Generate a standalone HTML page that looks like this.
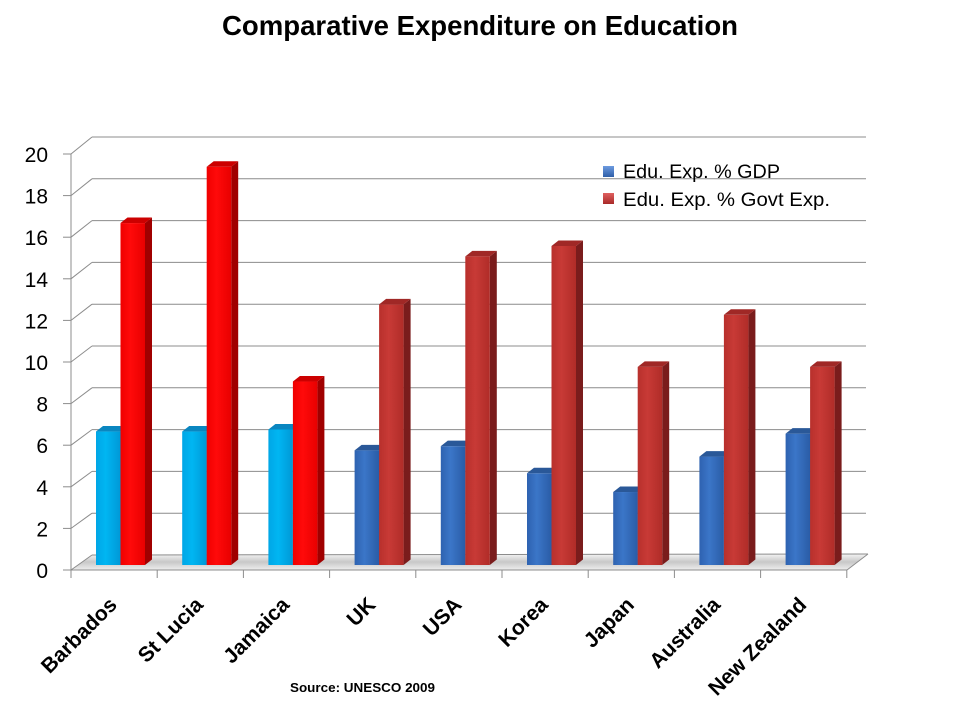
<!DOCTYPE html>
<html><head><meta charset="utf-8"><style>
html,body{margin:0;padding:0;background:#fff;}
svg{display:block;font-family:"Liberation Sans",sans-serif;}
</style></head><body>
<svg width="960" height="720" viewBox="0 0 960 720" xmlns="http://www.w3.org/2000/svg">
<defs>
<linearGradient id="cy" x1="0" x2="1" y1="0" y2="0"><stop offset="0" stop-color="#00a6e6"/><stop offset="0.4" stop-color="#00b6f2"/><stop offset="1" stop-color="#0098d6"/></linearGradient>
<linearGradient id="rd" x1="0" x2="1" y1="0" y2="0"><stop offset="0" stop-color="#f00000"/><stop offset="0.4" stop-color="#ff0a0a"/><stop offset="1" stop-color="#e80000"/></linearGradient>
<linearGradient id="bl" x1="0" x2="1" y1="0" y2="0"><stop offset="0" stop-color="#2e62b0"/><stop offset="0.4" stop-color="#3b76c8"/><stop offset="1" stop-color="#2a5ca6"/></linearGradient>
<linearGradient id="dr" x1="0" x2="1" y1="0" y2="0"><stop offset="0" stop-color="#b8302c"/><stop offset="0.4" stop-color="#c83a36"/><stop offset="1" stop-color="#b02c28"/></linearGradient>
<linearGradient id="fl" x1="0" x2="0" y1="0" y2="1"><stop offset="0" stop-color="#f4f4f4"/><stop offset="0.5" stop-color="#c8c8c8"/><stop offset="1" stop-color="#eeeeee"/></linearGradient>
<linearGradient id="lgb" x1="0" x2="0" y1="0" y2="1"><stop offset="0" stop-color="#6d9be0"/><stop offset="1" stop-color="#2f5fa8"/></linearGradient>
<linearGradient id="lgr" x1="0" x2="0" y1="0" y2="1"><stop offset="0" stop-color="#e06060"/><stop offset="1" stop-color="#a82a28"/></linearGradient>
</defs>
<rect width="960" height="720" fill="#fff"/>
<text x="480" y="35" text-anchor="middle" font-size="28" font-weight="bold" textLength="516" lengthAdjust="spacingAndGlyphs">Comparative Expenditure on Education</text>

<!-- floor -->
<polygon points="71,570 92,555 868,554 847,570" fill="url(#fl)"/>
<g stroke="#8c8c8c" stroke-width="1" fill="none">
<line x1="92" y1="555" x2="868" y2="554"/>
<line x1="71" y1="570" x2="847" y2="570"/>
<line x1="847" y1="570" x2="868" y2="554"/>
</g>

<!-- grid -->
<g stroke="#8c8c8c" stroke-width="1" fill="none" id="grid"></g>

<!-- bars -->
<g id="bars"></g>

<!-- legend -->
<rect x="603" y="166" width="11" height="11" fill="url(#lgb)"/>
<text x="623" y="178" font-size="19" textLength="157" lengthAdjust="spacingAndGlyphs">Edu. Exp. % GDP</text>
<rect x="603" y="193" width="11" height="11" fill="url(#lgr)"/>
<text x="623" y="206" font-size="19" textLength="207" lengthAdjust="spacingAndGlyphs">Edu. Exp. % Govt Exp.</text>

<g id="ylab" font-size="21" text-anchor="end"></g>
<g id="xlab" font-size="21" font-weight="bold" text-anchor="end"></g>

<text x="290" y="692" font-size="13" font-weight="bold" textLength="145" lengthAdjust="spacingAndGlyphs">Source: UNESCO 2009</text>
</svg>
<script>
(function(){
var NS="http://www.w3.org/2000/svg";
function el(t,a,p,txt){var e=document.createElementNS(NS,t);for(var k in a)e.setAttribute(k,a[k]);if(txt!==undefined)e.textContent=txt;p.appendChild(e);return e;}
var grid=document.getElementById('grid'),yl=document.getElementById('ylab'),xl=document.getElementById('xlab'),bars=document.getElementById('bars');
for(var v=0;v<=20;v+=2){
  var yf=570-20.8*v, yb=555-20.9*v;
  if(v>0) el('line',{x1:92,y1:yb,x2:866,y2:yb},grid);
  el('line',{x1:71,y1:yf,x2:92,y2:yb},grid);
  el('line',{x1:63,y1:yf,x2:71,y2:yf},grid);
  el('text',{x:48,y:yf+8},yl,String(v));
}
el('line',{x1:71,y1:154,x2:71,y2:570},grid);
var sp=86.2;
for(var k=0;k<=9;k++){var x=71+sp*k;el('line',{x1:x,y1:570,x2:x,y2:578},grid);}
var names=["Barbados","St Lucia","Jamaica","UK","USA","Korea","Japan","Australia","New Zealand"];
var b=[6.4,6.4,6.5,5.5,5.7,4.4,3.5,5.2,6.3];
var r=[16.4,19.1,8.8,12.5,14.8,15.3,9.5,12.0,9.5];
var s=20.85,base=565,dx=7,dy=5.5;
for(var i=0;i<9;i++){
  var gx=71+sp*i, bright=i<3;
  var bf=bright?'url(#cy)':'url(#bl)', bt=bright?'#0a86c0':'#2a5898', bs=bright?'#0078b0':'#1f4680';
  var rf=bright?'url(#rd)':'url(#dr)', rt=bright?'#cc0000':'#a02826', rs=bright?'#a00000':'#7a1c1c';
  var bx=gx+25,w=24.5,ty=base-s*b[i];
  el('polygon',{points:(bx+w)+','+ty+' '+(bx+w+dx)+','+(ty-dy)+' '+(bx+w+dx)+','+(base-dy)+' '+(bx+w)+','+base,fill:bs},bars);
  el('rect',{x:bx,y:ty,width:w,height:base-ty,fill:bf},bars);
  el('polygon',{points:bx+','+ty+' '+(bx+w)+','+ty+' '+(bx+w+dx)+','+(ty-dy)+' '+(bx+dx)+','+(ty-dy),fill:bt},bars);
  var rx=gx+49.5, ry=base-s*r[i];
  el('polygon',{points:(rx+w)+','+ry+' '+(rx+w+dx)+','+(ry-dy)+' '+(rx+w+dx)+','+(base-dy)+' '+(rx+w)+','+base,fill:rs},bars);
  el('rect',{x:rx,y:ry,width:w,height:base-ry,fill:rf},bars);
  el('polygon',{points:rx+','+ry+' '+(rx+w)+','+ry+' '+(rx+w+dx)+','+(ry-dy)+' '+(rx+dx)+','+(ry-dy),fill:rt},bars);
  var cx=gx+sp/2;
  el('text',{x:0,y:0,transform:'translate('+(cx+4)+',606) rotate(-45)'},xl,names[i]);
}
})();
</script>
</body></html>
